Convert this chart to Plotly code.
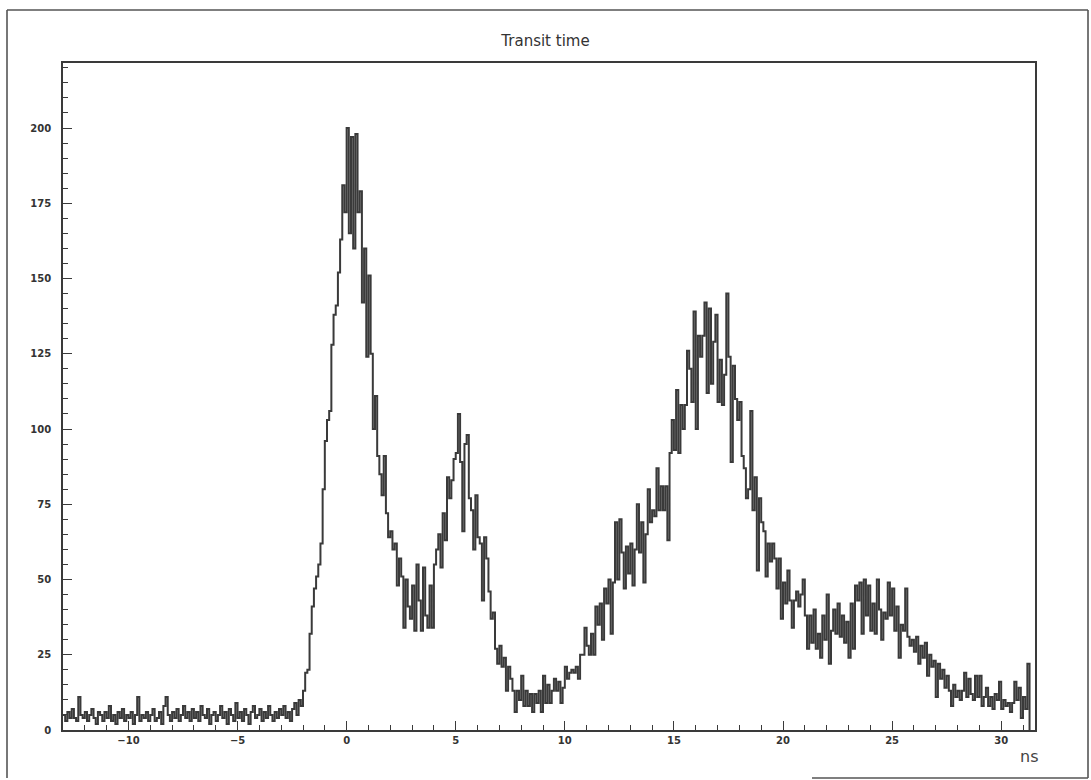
import plotly.graph_objects as go

# ---- data: histogram "Transit time" (counts per 0.1 ns bin) ----
HIST_START = -13.0   # ns, left edge of first bin
BIN_WIDTH = 0.1      # ns

counts_m13 = [5, 3, 6, 4, 7, 4, 3, 11, 5, 4]
counts_m12 = [6, 3, 5, 7, 4, 2, 6, 5, 3, 6]
counts_m11 = [4, 8, 3, 5, 2, 6, 4, 7, 3, 5]
counts_m10 = [4, 6, 2, 5, 11, 3, 5, 4, 6, 3]
counts_m09 = [5, 7, 3, 4, 6, 2, 8, 11, 5, 3]
counts_m08 = [6, 4, 7, 3, 5, 8, 4, 6, 3, 7]
counts_m07 = [4, 6, 3, 8, 5, 4, 7, 2, 5, 6]
counts_m06 = [3, 5, 8, 4, 6, 2, 7, 5, 3, 9]
counts_m05 = [4, 6, 3, 7, 5, 2, 6, 8, 4, 5]
counts_m04 = [7, 3, 6, 4, 8, 5, 3, 6, 4, 7]
counts_m03 = [5, 8, 4, 6, 3, 7, 9, 5, 10, 8]
counts_m02 = [13, 19, 20, 32, 41, 47, 51, 55, 62, 80]
counts_m01 = [96, 103, 106, 128, 138, 141, 152, 163, 181, 172]
counts_p00 = [200, 165, 197, 160, 198, 172, 179, 142, 160, 124]
counts_p01 = [151, 125, 100, 111, 91, 85, 78, 91, 72, 64]
counts_p02 = [66, 60, 62, 48, 57, 51, 34, 50, 41, 37]
counts_p03 = [48, 33, 55, 43, 33, 54, 38, 34, 48, 34]
counts_p04 = [55, 60, 65, 54, 72, 63, 84, 77, 83, 90]
counts_p05 = [92, 105, 89, 66, 95, 98, 77, 73, 60, 78]
counts_p06 = [64, 62, 43, 64, 57, 46, 37, 39, 27, 22]
counts_p07 = [28, 21, 24, 13, 21, 17, 13, 6, 13, 10]
counts_p08 = [18, 8, 13, 8, 12, 6, 12, 9, 13, 6]
counts_p09 = [18, 9, 15, 9, 13, 17, 13, 16, 9, 14]
counts_p10 = [21, 17, 19, 20, 19, 21, 17, 25, 25, 34]
counts_p11 = [28, 25, 32, 25, 41, 35, 42, 30, 47, 42]
counts_p12 = [50, 32, 49, 69, 50, 70, 59, 47, 61, 52]
counts_p13 = [62, 48, 60, 75, 59, 69, 49, 65, 80, 69]
counts_p14 = [73, 71, 87, 73, 81, 73, 81, 63, 92, 103]
counts_p15 = [93, 113, 92, 108, 100, 108, 126, 120, 109, 139]
counts_p16 = [100, 131, 124, 131, 142, 112, 140, 115, 129, 138]
counts_p17 = [109, 123, 108, 118, 145, 124, 89, 121, 110, 103]
counts_p18 = [109, 91, 87, 77, 80, 106, 73, 84, 53, 77]
counts_p19 = [69, 66, 51, 62, 56, 62, 57, 47, 57, 37]
counts_p20 = [49, 42, 53, 43, 34, 43, 46, 41, 45, 50]
counts_p21 = [38, 27, 38, 29, 40, 27, 32, 24, 38, 30]
counts_p22 = [45, 22, 33, 40, 32, 42, 31, 38, 29, 36]
counts_p23 = [24, 42, 27, 48, 43, 49, 32, 50, 38, 48]
counts_p24 = [33, 42, 32, 50, 40, 30, 39, 37, 49, 38]
counts_p25 = [47, 33, 41, 24, 35, 33, 47, 31, 28, 30]
counts_p26 = [26, 31, 22, 28, 24, 29, 18, 25, 21, 23]
counts_p27 = [11, 22, 17, 20, 14, 18, 13, 8, 15, 11]
counts_p28 = [13, 10, 13, 19, 11, 17, 12, 10, 18, 11]
counts_p29 = [18, 8, 11, 14, 8, 11, 7, 12, 10, 16]
counts_p30 = [7, 10, 8, 9, 6, 9, 16, 10, 14, 4]
counts_p31 = [11, 7, 22]

counts = (counts_m13 + counts_m12 + counts_m11 + counts_m10 + counts_m09 + counts_m08
          + counts_m07 + counts_m06 + counts_m05 + counts_m04 + counts_m03 + counts_m02
          + counts_m01 + counts_p00 + counts_p01 + counts_p02 + counts_p03 + counts_p04
          + counts_p05 + counts_p06 + counts_p07 + counts_p08 + counts_p09 + counts_p10
          + counts_p11 + counts_p12 + counts_p13 + counts_p14 + counts_p15 + counts_p16
          + counts_p17 + counts_p18 + counts_p19 + counts_p20 + counts_p21 + counts_p22
          + counts_p23 + counts_p24 + counts_p25 + counts_p26 + counts_p27 + counts_p28
          + counts_p29 + counts_p30 + counts_p31)

x_ticks = [-10, -5, 0, 5, 10, 15, 20, 25, 30]
y_ticks = [0, 25, 50, 75, 100, 125, 150, 175, 200]

# bin edges -> step outline
edges = [round(HIST_START + BIN_WIDTH * i, 4) for i in range(len(counts) + 1)]
xs = edges + [edges[-1]]
ys = counts + [counts[-1], 0]

LINE = "#3a3a3a"
FONT = "DejaVu Sans"

fig = go.Figure()
fig.add_trace(go.Scatter(x=xs, y=ys, mode="lines", line=dict(color=LINE, width=2.0, shape="hv"),
                         hoverinfo="skip", showlegend=False))

fig.update_layout(
    width=1091, height=780,
    margin=dict(l=63, r=56, t=63, b=50),
    paper_bgcolor="white", plot_bgcolor="white",
    showlegend=False,
    title=dict(text="Transit time", x=0.5, xanchor="center", y=1 - 41 / 780, yanchor="middle",
               font=dict(family=FONT, size=15, color="#333")),
)

fig.update_xaxes(
    range=[-13.0, 31.55], tickvals=x_ticks, ticks="inside", ticklen=9, tickwidth=1.3, tickcolor=LINE,
    showgrid=False, zeroline=False, showline=True, linecolor=LINE, linewidth=1.8, mirror=True,
    tickfont=dict(family=FONT, size=10, color="#333", weight="bold"),
    minor=dict(dtick=1, tick0=0, ticks="inside", ticklen=5, tickwidth=1.2, tickcolor=LINE, showgrid=False),
)
fig.update_yaxes(
    range=[0, 221.6], tickvals=y_ticks, ticks="inside", ticklen=9, tickwidth=1.3, tickcolor=LINE,
    showgrid=False, zeroline=False, showline=True, linecolor=LINE, linewidth=1.8, mirror=True,
    tickfont=dict(family=FONT, size=10, color="#333", weight="bold"), ticklabelstandoff=8,
    minor=dict(dtick=5, tick0=0, ticks="inside", ticklen=5, tickwidth=1.2, tickcolor=LINE, showgrid=False),
)

fig.add_annotation(text="ns", xref="paper", yref="paper", x=1.005, y=0, xanchor="right", yanchor="middle",
                   yshift=-26, showarrow=False, font=dict(family=FONT, size=16, color="#444"))

# outer frame of the page
fx0, fx1 = (7 - 63) / 972, (1088 - 63) / 972
fy0, fy1 = (730 - 778) / 667, (730 - 10) / 667
fxb = (812 - 63) / 972
for (a, b, c, d) in [(fx0, fy0, fx0, fy1), (fx0, fy1, fx1, fy1), (fx1, fy1, fx1, fy0), (fxb, fy0, fx1, fy0)]:
    fig.add_shape(type="line", xref="paper", yref="paper", x0=a, y0=b, x1=c, y1=d,
                  line=dict(color="#555", width=1.6))

fig.write_html("out.html")
